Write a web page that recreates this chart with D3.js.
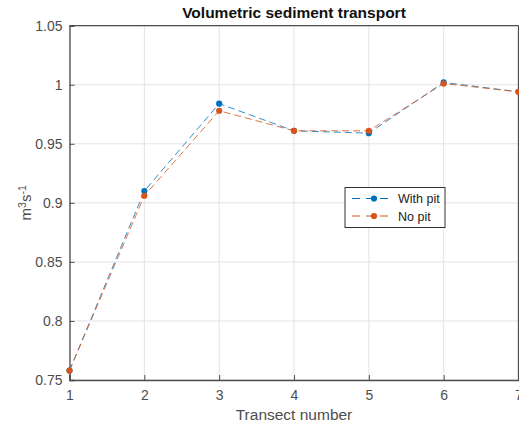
<!DOCTYPE html>
<html>
<head>
<meta charset="utf-8">
<script src="https://cdn.jsdelivr.net/npm/d3@7"></script>
<style>
  html, body { margin: 0; padding: 0; background: #fff; }
  svg { display: block; font-family: "Liberation Sans", Arial, sans-serif; }
</style>
</head>
<body>
<svg id="chart" width="519" height="429"></svg>
<script>
// Transect numbers along the x axis
const transects = [1, 2, 3, 4, 5, 6, 7];
// Volumetric transport (m^3 s^-1) per transect
const withPit = [0.758, 0.910, 0.984, 0.961, 0.959, 1.002, 0.994];
const noPit   = [0.758, 0.906, 0.978, 0.961, 0.961, 1.001, 0.994];
const yTicks = [0.75, 0.8, 0.85, 0.9, 0.95, 1, 1.05];
const seriesNames = ["With pit", "No pit"];
const seriesColors = ["#0072BD", "#D95319"];

const svg = d3.select("#chart");
const m = { left: 69.5, right: 518.5, top: 25.7, bottom: 380 };

const x = d3.scaleLinear().domain([1, 7]).range([m.left, m.right]);
const y = d3.scaleLinear().domain([0.75, 1.05]).range([m.bottom, m.top]);

const axisColor = "#4d4d4d";

// grid lines
const grid = svg.append("g");
grid.selectAll("line.v").data(transects).enter().append("line")
  .attr("x1", d => x(d)).attr("x2", d => x(d))
  .attr("y1", m.top).attr("y2", m.bottom)
  .attr("stroke", "#e3e3e3").attr("stroke-width", 1);
grid.selectAll("line.h").data(yTicks).enter().append("line")
  .attr("x1", m.left).attr("x2", m.right)
  .attr("y1", d => y(d)).attr("y2", d => y(d))
  .attr("stroke", "#e3e3e3").attr("stroke-width", 1);

// axes with inward ticks
const xAxis = d3.axisBottom(x).tickValues(transects).tickSize(-5).tickPadding(10).tickFormat(d3.format("d"));
const yAxis = d3.axisLeft(y).tickValues(yTicks).tickSize(-5).tickPadding(7).tickFormat(d => String(d));

const gx = svg.append("g").attr("transform", `translate(0,${m.bottom})`).call(xAxis);
const gy = svg.append("g").attr("transform", `translate(${m.left},0)`).call(yAxis);
[gx, gy].forEach(g => {
  g.select(".domain").attr("stroke", axisColor).attr("stroke-width", 1.3);
  g.selectAll(".tick line").attr("stroke", axisColor);
  g.selectAll(".tick text").attr("fill", axisColor).style("font-size", "14px")
    .style("font-family", "\"Liberation Sans\", Arial, sans-serif");
});

// top and right frame
svg.append("line").attr("x1", m.left).attr("x2", m.right).attr("y1", m.top).attr("y2", m.top)
  .attr("stroke", axisColor).attr("stroke-width", 1.3);
svg.append("line").attr("x1", m.right).attr("x2", m.right).attr("y1", m.top).attr("y2", m.bottom)
  .attr("stroke", axisColor).attr("stroke-width", 1.3);

// series
const series = [withPit, noPit];
const line = d3.line().x((d, i) => x(transects[i])).y(d => y(d));
series.forEach((vals, s) => {
  svg.append("path").datum(vals)
    .attr("d", line)
    .attr("fill", "none")
    .attr("stroke", seriesColors[s])
    .attr("stroke-width", 1)
    .attr("stroke-dasharray", "7,4")
    .attr("opacity", 0.8);
});
series.forEach((vals, s) => {
  svg.append("g").selectAll("circle").data(vals).enter().append("circle")
    .attr("cx", (d, i) => x(transects[i]))
    .attr("cy", d => y(d))
    .attr("r", 3.1)
    .attr("fill", seriesColors[s]);
});

// title
svg.append("text").attr("x", (m.left + m.right) / 2).attr("y", 18)
  .attr("text-anchor", "middle").attr("font-weight", "bold")
  .style("font-size", "15.5px").attr("fill", "#111")
  .text("Volumetric sediment transport");

// x label
svg.append("text").attr("x", (m.left + m.right) / 2).attr("y", 420)
  .attr("text-anchor", "middle").style("font-size", "15.5px").attr("fill", axisColor)
  .text("Transect number");

// y label
const yl = svg.append("text")
  .attr("transform", `translate(31,${(m.top + m.bottom) / 2}) rotate(-90)`)
  .attr("text-anchor", "middle").style("font-size", "15px").attr("fill", axisColor);
yl.append("tspan").text("m");
yl.append("tspan").attr("dy", -5.5).style("font-size", "10.5px").text("3");
yl.append("tspan").attr("dy", 5.5).text("s");
yl.append("tspan").attr("dy", -5.5).style("font-size", "10.5px").text("-1");

// legend
const lg = svg.append("g").attr("transform", "translate(345,187.5)");
lg.append("rect").attr("width", 100).attr("height", 40)
  .attr("fill", "#fff").attr("stroke", "#333").attr("stroke-width", 1);
seriesNames.forEach((name, i) => {
  const cy = 11 + i * 17.5;
  lg.append("line").attr("x1", 7).attr("x2", 48).attr("y1", cy).attr("y2", cy)
    .attr("stroke", seriesColors[i]).attr("stroke-width", 1).attr("stroke-dasharray", "8,6");
  lg.append("circle").attr("cx", 29).attr("cy", cy).attr("r", 3.1).attr("fill", seriesColors[i]);
  lg.append("text").attr("x", 53).attr("y", cy + 4.5).style("font-size", "12.5px")
    .attr("fill", "#222").text(name);
});
</script>
</body>
</html>
